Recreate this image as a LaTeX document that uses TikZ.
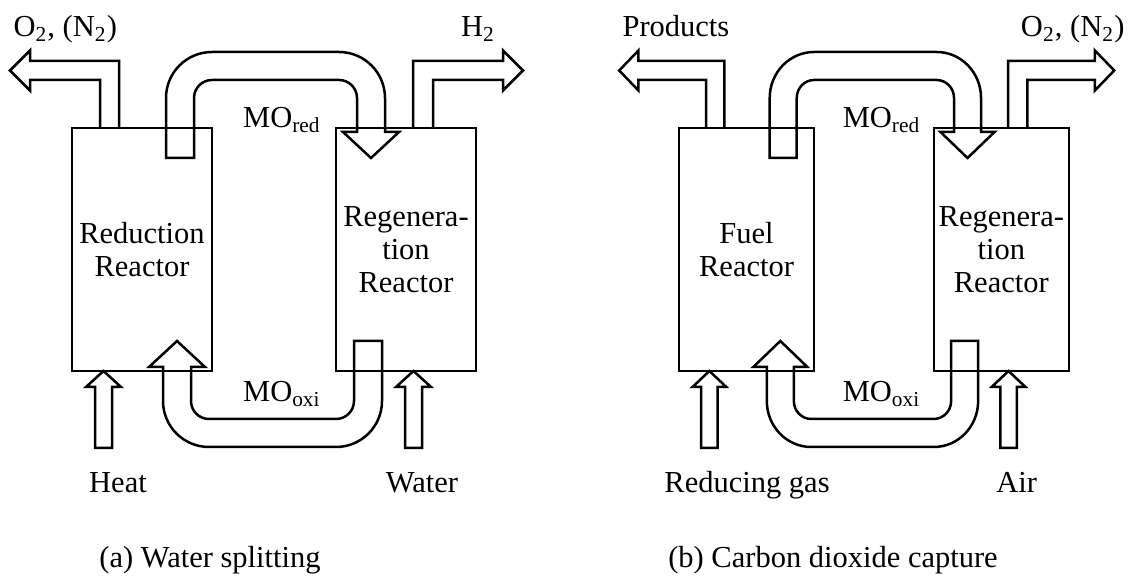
\documentclass[tikz,border=0pt]{standalone}
\usepackage{fontspec}
\setmainfont{Liberation Serif}
\usepackage{tikz}

\tikzset{
  pipe/.style={line width=1pt, line join=miter},
  tag/.style={inner sep=0pt, font=\fontsize{12.2}{13.2}\selectfont},
  reactortext/.style={tag, align=center},
}

\begin{document}
\begin{tikzpicture}[x=0.4pt, y=-0.4pt]

\useasboundingbox (0,0) rectangle (1129,577);

% --- shapes shared by both loops ---
\def\loopshapes{%
  % reactors
  \draw[pipe] (0,128) rectangle (140,371);
  \draw[pipe] (264,128) rectangle (404,371);
  % reduced oxide, top pipe
  \draw[pipe] (94,158) -- (94,98) arc[start angle=180, end angle=270, radius=46]
    -- (267,52) arc[start angle=270, end angle=360, radius=46]
    -- (313,132) -- (327,132) -- (299,158) -- (271,132) -- (285,132)
    -- (285,98) arc[start angle=0, end angle=-90, radius=18]
    -- (140,80) arc[start angle=270, end angle=180, radius=18]
    -- (122,158) -- cycle;
  % oxidised oxide, bottom pipe
  \draw[pipe] (282,341) -- (310,341)
    -- (310,401) arc[start angle=0, end angle=90, radius=46]
    -- (137,447) arc[start angle=90, end angle=180, radius=46]
    -- (91,367) -- (77,367) -- (105,341) -- (133,367) -- (119,367)
    -- (119,401) arc[start angle=180, end angle=90, radius=18]
    -- (264,419) arc[start angle=90, end angle=0, radius=18]
    -- cycle;
  % outlets
  \draw[pipe] (47,128) -- (47,61) -- (-42,61) -- (-42,50.5) -- (-62,70.5)
    -- (-42,90.5) -- (-42,80) -- (28,80) -- (28,128);
  \draw[pipe] (341,128) -- (341,61) -- (431,61) -- (431,50.5) -- (451,70.5)
    -- (431,90.5) -- (431,80) -- (361,80) -- (361,128);
  % inlets
  \draw[pipe] (23,448) -- (23,387) -- (14,387) -- (31.5,371) -- (49,387)
    -- (40,387) -- (40,448) -- cycle;
  \draw[pipe] (333,448) -- (333,387) -- (324,387) -- (341.5,371) -- (359,387)
    -- (350,387) -- (350,448) -- cycle;
}

% --- (a) water splitting ---
\begin{scope}[shift={(72,0)}]
\loopshapes
\node[tag, anchor=base west] (a-out1) at (-59,37) {O\textsubscript{2}, (N\textsubscript{2})};
\node[tag, anchor=base] (a-out2) at (406,37) {H\textsubscript{2}};
\node[reactortext] (a-reac1) at (70,250) {Reduction\\Reactor};
\node[reactortext] (a-reac2) at (334,250) {Regenera-\\tion\\Reactor};
\node[tag, anchor=base] (a-mored) at (210,128) {MO\textsubscript{red}};
\node[tag, anchor=base] (a-mooxi) at (210,402) {MO\textsubscript{oxi}};
\node[tag, anchor=base] (a-in1) at (46,493) {Heat};
\node[tag, anchor=base] (a-in2) at (350,493) {Water};
\node[tag, anchor=base] (a-cap) at (138,568) {(a) Water splitting};
\end{scope}

% --- (b) carbon dioxide capture ---
\begin{scope}[shift={(679,0)}, xscale=0.965]
\loopshapes
\node[tag, anchor=base west] (b-out1) at (-59,37) {Products};
\node[tag, anchor=base] (b-out2) at (408,37) {O\textsubscript{2}, (N\textsubscript{2})};
\node[reactortext] (b-reac1) at (70,250) {Fuel\\Reactor};
\node[reactortext] (b-reac2) at (334,250) {Regenera-\\tion\\Reactor};
\node[tag, anchor=base] (b-mored) at (210,128) {MO\textsubscript{red}};
\node[tag, anchor=base] (b-mooxi) at (210,402) {MO\textsubscript{oxi}};
\node[tag, anchor=base] (b-in1) at (70.5,493) {Reducing gas};
\node[tag, anchor=base] (b-in2) at (350,493) {Air};
\node[tag, anchor=base] (b-cap) at (159.6,568) {(b) Carbon dioxide capture};
\end{scope}

\end{tikzpicture}
\end{document}
